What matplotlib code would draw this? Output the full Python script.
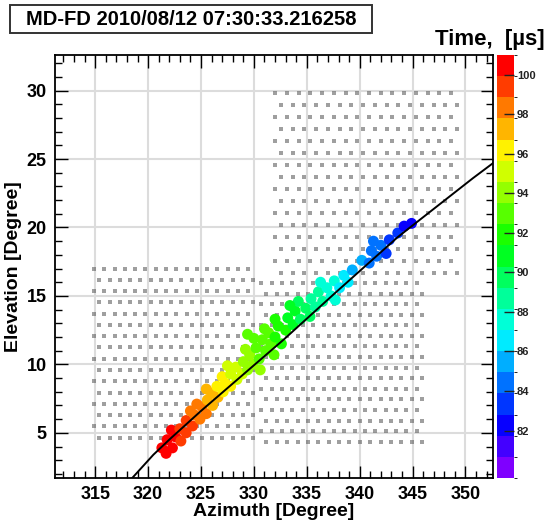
import colorsys
import numpy as np
import matplotlib
matplotlib.use("Agg")
import matplotlib.pyplot as plt
from matplotlib.colors import ListedColormap, BoundaryNorm
from matplotlib.patches import Rectangle

plt.rcParams['font.family'] = ['Liberation Sans', 'DejaVu Sans']

# ---------------- data ----------------
title_text = "MD-FD 2010/08/12 07:30:33.216258"
x_label = "Azimuth [Degree]"
y_label = "Elevation [Degree]"
cbar_title = "Time,  [\u00b5s]"

x_ticks = [315, 320, 325, 330, 335, 340, 345, 350]
y_ticks = [5, 10, 15, 20, 25, 30]
cbar_ticks = [82, 84, 86, 88, 90, 92, 94, 96, 98, 100]

# PMT cameras: azimuth start, azimuth step, columns, top elevation, bottom elevation, rows
cam_az_start = [314.9, 330.7, 332.0]
cam_az_step = [0.97, 0.98, 1.11]
cam_n_cols = [16, 16, 16]
cam_el_top = [17.0, 15.95, 29.8]
cam_el_bottom = [4.65, 4.35, 16.7]
cam_n_rows = [16, 16, 16]

# hit PMTs: azimuth, elevation, time [us]
hit_az = [321.3, 321.8, 322.3, 322.6, 322.2, 323.1, 323.0, 323.6, 321.7,
          323.6, 324.2, 324.4, 324.0, 324.9, 325.1, 324.6, 325.5,
          325.6, 326.1, 326.0, 326.6, 326.5, 327.1, 325.5,
          327.3, 327.0, 327.8, 327.8, 328.4, 328.3, 328.9, 327.5,
          329.0, 329.4, 329.6, 329.9, 329.2, 330.2, 330.5, 330.0, 330.8, 331.1,
          331.4, 331.6, 331.0, 332.0, 332.3, 332.6, 332.0, 333.0, 331.9, 330.6,
          329.4,
          333.2, 333.7, 333.9, 334.4, 334.2, 334.9, 335.3, 335.4, 333.4, 335.8,
          336.1, 336.5, 336.9, 337.3, 337.6, 338.1, 338.5, 338.9, 339.3, 336.3,
          337.7,
          340.2, 340.9, 341.1, 341.6, 342.0, 342.5, 342.8, 341.3,
          343.6, 344.2, 344.9]
hit_el = [3.9, 4.5, 3.9, 4.7, 5.2, 4.4, 5.3, 5.0, 3.5,
          5.9, 5.5, 6.3, 6.6, 6.0, 6.9, 7.1, 6.4,
          7.4, 7.0, 7.9, 7.6, 8.4, 8.0, 8.2,
          8.6, 9.1, 8.4, 9.3, 8.9, 9.8, 9.3, 9.9,
          10.2, 9.6, 10.7, 10.0, 11.1, 11.2, 10.4, 11.9, 11.8, 11.0,
          12.3, 11.5, 12.6, 12.0, 12.8, 11.5, 13.3, 12.5, 10.7, 9.6,
          12.2,
          13.4, 12.9, 13.9, 13.3, 14.6, 14.1, 13.5, 14.8, 14.3, 14.2,
          15.3, 14.6, 15.6, 15.0, 16.1, 15.6, 16.5, 16.0, 16.9, 16.0,
          14.7,
          17.6, 17.4, 18.3, 17.9, 18.7, 18.1, 19.1, 19.0,
          19.6, 20.1, 20.3]
hit_t = [100.7, 100.4, 100.5, 100.1, 100.0, 99.9, 99.6, 99.5, 100.8,
         99.0, 98.9, 98.6, 98.5, 98.4, 98.1, 98.2, 98.0,
         97.6, 97.4, 97.1, 96.9, 96.7, 96.5, 97.3,
         96.0, 95.8, 95.7, 95.4, 95.2, 94.9, 94.7, 95.3,
         94.3, 94.2, 93.8, 93.9, 93.9, 93.4, 93.5, 93.3, 92.9, 93.0,
         92.5, 92.6, 92.6, 92.1, 91.8, 91.9, 91.7, 91.4, 92.6, 93.6,
         93.5,
         90.9, 90.6, 90.3, 90.0, 89.9, 89.6, 89.4, 89.1, 90.6, 88.9,
         88.5, 88.3, 87.8, 87.6, 87.2, 86.9, 86.6, 86.3, 86.0, 88.1,
         87.5,
         85.3, 84.9, 84.6, 84.3, 84.0, 83.8, 83.5, 84.5,
         83.0, 82.7, 82.4]

# reconstructed track
track_az = [318.5, 320.5, 322.0, 325.0, 328.0, 332.8, 337.8, 343.6, 350.7, 352.6]
track_el = [1.7, 3.4, 4.5, 6.6, 8.6, 11.8, 15.3, 19.3, 23.6, 24.7]

x_range = (311.2, 352.6)
y_range = (1.7, 32.6)
t_range = (79.6, 101.0)
n_levels = 20

# ---------------- figure ----------------
W, H = 547, 525
fig = plt.figure(figsize=(W / 100, H / 100), dpi=100)

def rect(x0, y0, x1, y1):
    return [x0 / W, 1 - y1 / H, (x1 - x0) / W, (y1 - y0) / H]

ax = fig.add_axes(rect(55, 55, 493, 478))
cax = fig.add_axes(rect(497, 55, 514, 478))

# palette: violet -> red, 20 levels
colors = [colorsys.hls_to_rgb((270.0 * (1 - i / (n_levels - 1))) / 360.0, 0.5, 1.0)
          for i in range(n_levels)]
cmap = ListedColormap(colors)
bounds = np.linspace(t_range[0], t_range[1], n_levels + 1)
norm = BoundaryNorm(bounds, cmap.N)

ax.set_xlim(*x_range)
ax.set_ylim(*y_range)

# grid
for xv in x_ticks:
    ax.axvline(xv, color='#dcdcdc', lw=1.5, zorder=0)
for yv in y_ticks:
    ax.axhline(yv, color='#dcdcdc', lw=1.5, zorder=0)

# PMT dots
for a0, da, nc, et, eb, nr in zip(cam_az_start, cam_az_step, cam_n_cols,
                                  cam_el_top, cam_el_bottom, cam_n_rows):
    rows = np.linspace(et, eb, nr)
    px, py = [], []
    for r, el in enumerate(rows):
        shift = 0.5 * da if r % 2 else 0.0
        for c in range(nc):
            px.append(a0 + shift + c * da)
            py.append(el)
    ax.scatter(px, py, s=5, marker='s', color='#606060', alpha=0.6,
               linewidths=0, zorder=2)

# hits
ax.scatter(hit_az, hit_el, c=hit_t, cmap=cmap, norm=norm, s=62, marker='o',
           linewidths=0, zorder=3)

# track
ax.plot(track_az, track_el, color='black', lw=1.4, zorder=4)

ax.set_xticks(x_ticks)
ax.set_yticks(y_ticks)
ax.set_xticks(np.arange(312, 353, 1), minor=True)
ax.set_yticks(np.arange(2, 33, 1), minor=True)
ax.tick_params(which='both', direction='in', top=True, right=True, width=1.0)
ax.tick_params(which='major', length=9, labelsize=13, pad=6)
ax.tick_params(which='minor', length=5)
for lab in ax.get_xticklabels() + ax.get_yticklabels():
    lab.set_fontweight('bold')
for sp in ax.spines.values():
    sp.set_linewidth(1.3)

ax.set_xlabel(x_label, fontsize=14, fontweight='bold', labelpad=0)
ax.set_ylabel(y_label, fontsize=14, fontweight='bold', labelpad=3)

# colorbar
sm = plt.cm.ScalarMappable(cmap=cmap, norm=norm)
cb = fig.colorbar(sm, cax=cax, boundaries=bounds, ticks=cbar_ticks)
cb.outline.set_visible(False)
cax.tick_params(direction='in', length=7, width=1.0, labelsize=8, pad=2,
                colors='#222222')
for lab in cax.get_yticklabels():
    lab.set_fontweight('bold')

fig.text(545 / W, 1 - 40 / H, cbar_title, ha='right', va='center',
         fontsize=16, fontweight='bold')

# title box
fig.patches.append(Rectangle((10 / W, 1 - 33 / H), 362 / W, 28 / H,
                             transform=fig.transFigure, facecolor='white',
                             edgecolor='#333333', linewidth=1.4))
fig.text(191 / W, 1 - 19.5 / H, title_text, ha='center', va='center',
         fontsize=14.5, fontweight='bold')

fig.savefig('out.png', dpi=100)
